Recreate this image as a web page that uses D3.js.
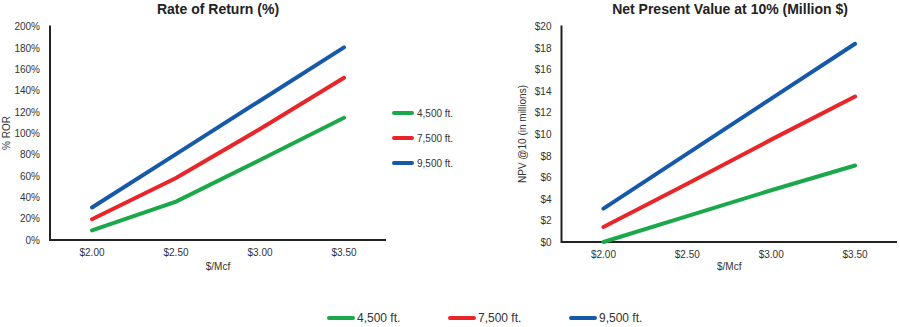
<!DOCTYPE html>
<html><head><meta charset="utf-8">
<script src="https://cdn.jsdelivr.net/npm/d3@7"></script>
<style>
body{margin:0;background:#fff;}
text{font-family:"Liberation Sans Narrow","Liberation Sans",Arial,sans-serif;fill:#333;}
</style></head><body>
<svg id="c" width="900" height="327"></svg>
<script>
const categories = ["$2.00","$2.50","$3.00","$3.50"];
const seriesNames = ["4,500 ft.","7,500 ft.","9,500 ft."];
const seriesColors = ["#1aa84a","#e8262a","#1659a8"];
const rorValues = [
  [9, 36, 75, 114.5],
  [19.5, 58, 104, 152],
  [30.5, 80.5, 130.5, 180.5]
];
const npvValues = [
  [0, 2.4, 4.8, 7.1],
  [1.4, 5.4, 9.5, 13.5],
  [3.1, 8.2, 13.3, 18.4]
];
const rorTicks = [0,20,40,60,80,100,120,140,160,180,200];
const npvTicks = [0,2,4,6,8,10,12,14,16,18,20];

const svg = d3.select("#c");

function panel(o){
  const g = svg.append("g");
  const x = d3.scaleBand().domain(categories).range([o.x0,o.x1]);
  const y = d3.scaleLinear().domain([0,o.max]).range([o.y0,o.y1]);
  // y tick labels
  const ya = g.append("g").attr("transform",`translate(${o.x0},0)`)
    .call(d3.axisLeft(y).tickValues(o.ticks).tickSize(0).tickPadding(10).tickFormat(o.fmt));
  ya.select(".domain").remove();
  ya.selectAll("text").style("font-size","10px").style("fill","#333");
  const xa = g.append("g").attr("transform",`translate(0,${o.y0})`)
    .call(d3.axisBottom(x).tickSize(0).tickPadding(9));
  xa.select(".domain").remove();
  xa.selectAll("text").style("font-size","10px").style("fill","#333");
  // axis lines
  g.append("path").attr("d",`M${o.x0},${o.y1-1}V${o.y0}H${o.x1}`)
    .attr("fill","none").attr("stroke","#222").attr("stroke-width",2);
  // lines
  const line = d3.line().x((d,i)=>x(categories[i])+x.bandwidth()/2).y(d=>y(d));
  o.data.forEach((s,k)=>{
    g.append("path").datum(s).attr("d",line).attr("fill","none")
      .attr("stroke",seriesColors[k]).attr("stroke-width",4).attr("stroke-linecap","round");
  });
  // titles
  g.append("text").attr("x",o.tx).attr("y",14).attr("text-anchor","middle")
    .style("font-family","'Liberation Sans',Arial,sans-serif").style("font-weight","bold")
    .style("font-size","14px").style("fill","#222").text(o.title);
  g.append("text").attr("transform",`translate(${o.lx},${o.ly}) rotate(-90)`)
    .attr("text-anchor","middle").style("font-size","10px").text(o.ylabel);
  g.append("text").attr("x",(x(categories[1])+x(categories[2]))/2+x.bandwidth()/2).attr("y",270)
    .attr("text-anchor","middle").style("font-size","10px").text("$/Mcf");
}

panel({x0:50,x1:386,y0:240,y1:26.5,max:200,ticks:rorTicks,fmt:d=>d+"%",
  data:rorValues,title:"Rate of Return (%)",tx:218,ylabel:"% ROR",lx:10,ly:133});
panel({x0:561.5,x1:897,y0:242,y1:26.5,max:20,ticks:npvTicks,fmt:d=>"$"+d,
  data:npvValues,title:"Net Present Value at 10% (Million $)",tx:730,ylabel:"NPV @10 (in millions)",lx:526,ly:134});

// side legend
const lg = svg.append("g");
seriesNames.forEach((n,i)=>{
  const yy = 113 + i*25;
  lg.append("line").attr("x1",394).attr("x2",412).attr("y1",yy).attr("y2",yy)
    .attr("stroke",seriesColors[i]).attr("stroke-width",4).attr("stroke-linecap","round");
  lg.append("text").attr("x",417).attr("y",yy+3.5).style("font-size","10px").text(n);
});
// bottom legend
const bx = [329,450,571];
seriesNames.forEach((n,i)=>{
  lg.append("line").attr("x1",bx[i]).attr("x2",bx[i]+24).attr("y1",318).attr("y2",318)
    .attr("stroke",seriesColors[i]).attr("stroke-width",4).attr("stroke-linecap","round");
  lg.append("text").attr("x",bx[i]+28).attr("y",322).style("font-size","12px").text(n);
});
</script></body></html>
